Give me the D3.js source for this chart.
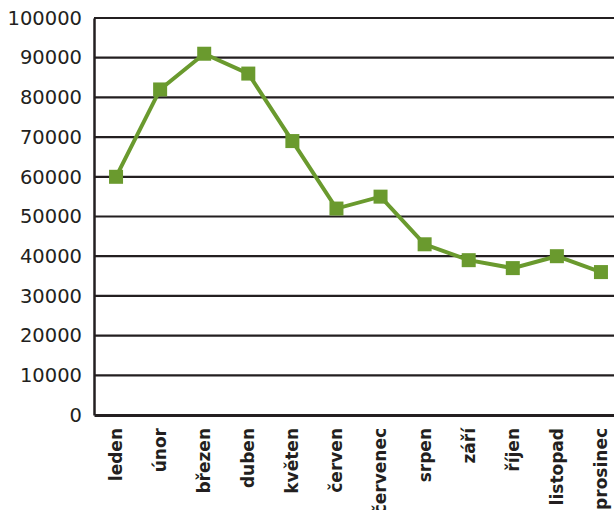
<html><head>
<meta charset="UTF-8">
<script src="https://cdn.jsdelivr.net/npm/d3@7"></script>
<style>
  body { margin: 0; background: #fff; }
  .tick text { font-family: "DejaVu Sans", sans-serif; fill: #231f20; }
</style>
</head>
<body>
<div id="chart"></div>
<script>
const months = ['leden', 'únor', 'březen', 'duben', 'květen', 'červen', 'červenec', 'srpen', 'září', 'říjen', 'listopad', 'prosinec'];
const values = [60000, 82000, 91000, 86000, 69000, 52000, 55000, 43000, 39000, 37000, 40000, 36000];
const yTicks = [0, 10000, 20000, 30000, 40000, 50000, 60000, 70000, 80000, 90000, 100000];

const W = 614, H = 510;
const margin = {top: 18, left: 94, bottom: 95};
const plotRight = 623; // plot is cut at the window edge

const svg = d3.select("#chart").append("svg")
    .attr("width", W)
    .attr("height", H);

const x = d3.scaleBand().domain(months).range([margin.left, plotRight]);
const y = d3.scaleLinear().domain([0, 100000]).range([H - margin.bottom, margin.top]);

// gridlines
svg.selectAll(".grid")
    .data(yTicks.slice(1))
  .enter().append("line")
    .attr("x1", margin.left).attr("x2", W)
    .attr("y1", d => y(d)).attr("y2", d => y(d))
    .attr("stroke", "#231f20")
    .attr("stroke-width", 2.2);

// y axis
const yAxis = svg.append("g")
    .attr("transform", `translate(${margin.left},0)`)
    .call(d3.axisLeft(y).tickValues(yTicks).tickSize(0).tickPadding(12).tickFormat(d3.format("d")));
yAxis.select(".domain").attr("stroke", "#231f20").attr("stroke-width", 2.5);
yAxis.selectAll(".tick text").style("font-size", "19.5px");

// x axis
const xAxis = svg.append("g")
    .attr("transform", `translate(0,${y(0)})`)
    .call(d3.axisBottom(x).tickSize(0).tickPadding(0));
xAxis.select(".domain").attr("stroke", "#231f20").attr("stroke-width", 3);
xAxis.selectAll(".tick text")
    .style("font-size", "17px")
    .style("font-weight", "bold")
    .attr("text-anchor", "end")
    .attr("transform", "rotate(-90)")
    .attr("x", -13)
    .attr("y", 0)
    .attr("dy", "0.35em");

// line
const line = d3.line()
    .x((d, i) => x(months[i]) + x.bandwidth() / 2)
    .y(d => y(d));

svg.append("path")
    .datum(values)
    .attr("fill", "none")
    .attr("stroke", "#6a9a2e")
    .attr("stroke-width", 4)
    .attr("d", line);

const ms = 14;
svg.selectAll(".marker")
    .data(values)
  .enter().append("rect")
    .attr("x", (d, i) => x(months[i]) + x.bandwidth() / 2 - ms / 2)
    .attr("y", d => y(d) - ms / 2)
    .attr("width", ms)
    .attr("height", ms)
    .attr("fill", "#6a9a2e");
</script>
</body></html>
